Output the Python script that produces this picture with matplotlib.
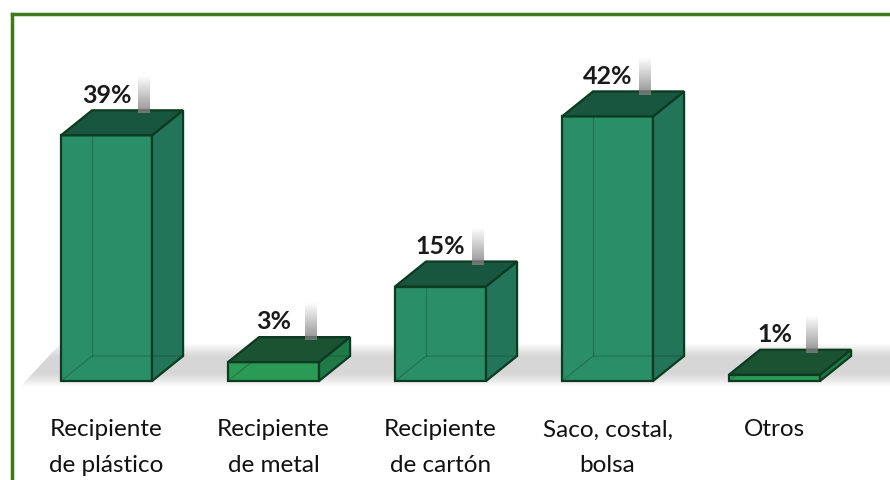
import numpy as np
import matplotlib.pyplot as plt
from matplotlib.patches import Polygon
from matplotlib.lines import Line2D

categorias = ['Recipiente\nde plástico', 'Recipiente\nde metal', 'Recipiente\nde cartón',
              'Saco, costal,\nbolsa', 'Otros']
porcentajes = [39, 3, 15, 42, 1]
etiquetas = ['39%', '3%', '15%', '42%', '1%']

plt.rcParams['font.family'] = ['Lato', 'DejaVu Sans']

# geometria de la escena (en unidades de datos: x = categoria, y = porcentaje)
ANCHO = 0.545
DX, DY = 0.186, 3.97

fig = plt.figure(figsize=(8.9, 4.8), dpi=100)
ax = fig.add_axes([0, 0, 1, 1])
ax.set_xlim(-0.6377, 4.6916)
ax.set_ylim(-15.71, 60.48)
ax.axis('off')

# piso gris
piso = Polygon([(-0.52, -1.0), (4.7, -1.0), (4.7, 5.9), (-0.28, 5.9)], closed=True,
               facecolor='none', edgecolor='none')
ax.add_patch(piso)
grad = np.linspace(0, 1, 64)[:, None]
alpha = np.clip(np.sin(grad * np.pi) * 1.2, 0, 1)
img = np.zeros((64, 2, 4))
img[..., :3] = 0.84
img[..., 3] = np.repeat(alpha, 2, axis=1)
im = ax.imshow(img, extent=(-0.52, 4.7, -1.0, 5.9), origin='lower', aspect='auto', zorder=1)
im.set_clip_path(piso)


def caja(ax, x, v, frente, lado, tapa, borde='#0c3a22'):
    x0, x1 = x - ANCHO / 2, x + ANCHO / 2
    ax.add_patch(Polygon([(x0, 0), (x1, 0), (x1, v), (x0, v)], closed=True,
                         facecolor=frente, edgecolor=borde, lw=1.6, zorder=2))
    ax.add_patch(Polygon([(x1, 0), (x1 + DX, DY), (x1 + DX, v + DY), (x1, v)], closed=True,
                         facecolor=lado, edgecolor=borde, lw=1.6, zorder=2))
    # aristas ocultas, se ven a traves de la caja
    ax.plot([x0 + DX, x0 + DX], [DY, v + DY], color=borde, lw=0.9, alpha=0.3, zorder=3)
    ax.plot([x0, x0 + DX, x1 + DX], [0, DY, DY], color=borde, lw=0.9, alpha=0.3, zorder=3)
    ax.add_patch(Polygon([(x0, v), (x1, v), (x1 + DX, v + DY), (x0 + DX, v + DY)], closed=True,
                         facecolor=tapa, edgecolor=borde, lw=1.6, zorder=4))


for i, (v, txt) in enumerate(zip(porcentajes, etiquetas)):
    if v >= 10:
        caja(ax, i, v, '#2a8f68', '#237559', '#185640')
    else:
        caja(ax, i, v, '#2b9a55', '#1f7a48', '#1a5232')

    # franja gris detras de la etiqueta
    xs = i + ANCHO / 2 - 0.05
    franja = np.zeros((32, 2, 4))
    franja[..., :3] = 0.5
    franja[..., 3] = np.linspace(0.85, 0.0, 32)[:, None]
    ax.imshow(franja, extent=(xs - 0.035, xs + 0.035, v + DY - 0.5, v + DY + 5.5),
              origin='lower', aspect='auto', zorder=5)

    ax.text(i, v + DY + 2.4, txt, ha='center', va='center', fontsize=18,
            fontweight='bold', color='#1a1a1a', zorder=6)
    ax.text(i, -6.1, categorias[i], ha='center', va='top', fontsize=17.5,
            color='#111111', linespacing=1.85, zorder=6)

# marco verde (superior e izquierdo)
fig.add_artist(Line2D([12 / 890, 1], [1 - 14 / 480, 1 - 14 / 480], transform=fig.transFigure,
                      color='#3d7a1c', lw=2.5))
fig.add_artist(Line2D([12 / 890, 12 / 890], [0, 1 - 14 / 480], transform=fig.transFigure,
                      color='#3d7a1c', lw=2.5))

fig.savefig('out.png', dpi=100)
